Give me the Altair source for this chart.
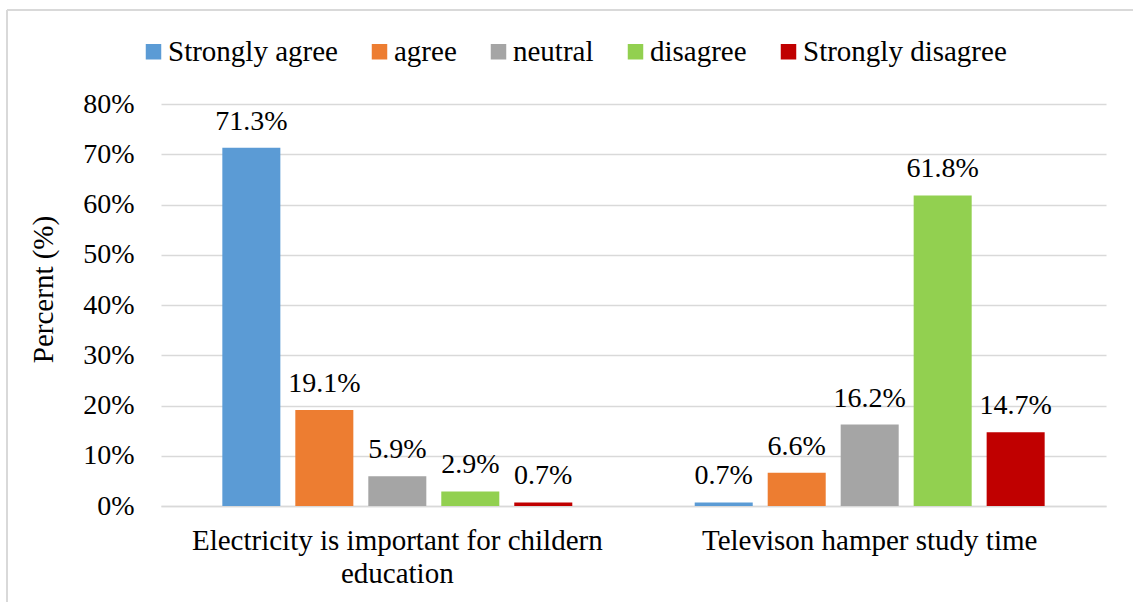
import altair as alt
import pandas as pd

statements = [
    "Electricity is important for childern education",
    "Televison hamper study time",
]
responses = ["Strongly agree", "agree", "neutral", "disagree", "Strongly disagree"]
colors = ["#5B9BD5", "#ED7D31", "#A5A5A5", "#92D050", "#C00000"]

electricity_pct = [71.3, 19.1, 5.9, 2.9, 0.7]
television_pct = [0.7, 6.6, 16.2, 61.8, 14.7]

rows = []
for stmt, vals in zip(statements, [electricity_pct, television_pct]):
    for resp, v in zip(responses, vals):
        rows.append({"statement": stmt, "response": resp, "percent": v,
                     "label": f"{v:.1f}%"})
df = pd.DataFrame(rows)

FONT = "Liberation Serif"

x_enc = alt.X(
    "statement:N",
    sort=statements,
    title=None,
    scale=alt.Scale(paddingInner=0.2275, paddingOuter=0.114),
    axis=alt.Axis(
        labelAngle=0,
        labelFontSize=29,
        labelFont=FONT,
        labelColor="#000000",
        labelPadding=20,
        labelLineHeight=33,
        labelLimit=600,
        ticks=False,
        domainColor="#d9d9d9",
        domainWidth=1.3,
        labelExpr=("datum.label == 'Electricity is important for childern education'"
                   " ? ['Electricity is important for childern', 'education'] : datum.label"),
    ),
)
xoff = alt.XOffset(
    "response:N",
    sort=responses,
    scale=alt.Scale(paddingInner=0.205, paddingOuter=0.1025),
)
y_enc = alt.Y(
    "percent:Q",
    title="Percernt (%)",
    scale=alt.Scale(domain=[0, 80], nice=False),
    axis=alt.Axis(
        values=[0, 10, 20, 30, 40, 50, 60, 70, 80],
        labelExpr="datum.value + '%'",
        labelFontSize=28,
        labelFont=FONT,
        labelColor="#000000",
        labelPadding=27,
        ticks=False,
        domain=False,
        gridColor="#d9d9d9",
        gridWidth=1.3,
        titleFont=FONT,
        titleFontSize=29,
        titleFontWeight="normal",
        titleColor="#000000",
        titleAngle=270,
        titleAlign="center",
        titleBaseline="alphabetic",
        titleX=-109,
        titleY=185,
    ),
)
color_enc = alt.Color(
    "response:N",
    sort=responses,
    scale=alt.Scale(domain=responses, range=colors),
    legend=alt.Legend(
        title=None,
        orient="none",
        direction="horizontal",
        legendX=-22,
        legendY=-67,
        padding=0,
        symbolType="square",
        symbolSize=240,
        symbolStrokeWidth=0,
        labelFont=FONT,
        labelFontSize=29,
        labelColor="#000000",
        labelOffset=0,
        columnPadding=27,
        labelLimit=400,
    ),
)

bars = alt.Chart(df).mark_bar().encode(
    x=x_enc, xOffset=xoff, y=y_enc, color=color_enc
)

labels = alt.Chart(df).mark_text(
    font=FONT, fontSize=28, color="#000000", baseline="alphabetic", dy=-18
).encode(
    x=alt.X("statement:N", sort=statements),
    xOffset=alt.XOffset("response:N", sort=responses),
    y="percent:Q",
    text="label:N",
)

# thin light frame around the whole figure (left and top edges)
frame_left = alt.Chart(df).mark_rule(color="#d9d9d9", strokeWidth=1.5, clip=False).encode(
    x=alt.value(-154), y=alt.value(-94), y2=alt.value(600)
)
frame_top = alt.Chart(df).mark_rule(color="#d9d9d9", strokeWidth=1.5, clip=False).encode(
    x=alt.value(-154), x2=alt.value(1000), y=alt.value(-94)
)

chart = alt.layer(bars, labels, frame_left, frame_top).properties(
    width=945,
    height=402,
    background="white",
    autosize=alt.AutoSizeParams(type="none"),
    padding={"left": 161, "top": 104, "right": 27, "bottom": 96},
).configure_view(stroke=None)

chart.save("out.html", embed_options={"renderer": "svg", "actions": False})
